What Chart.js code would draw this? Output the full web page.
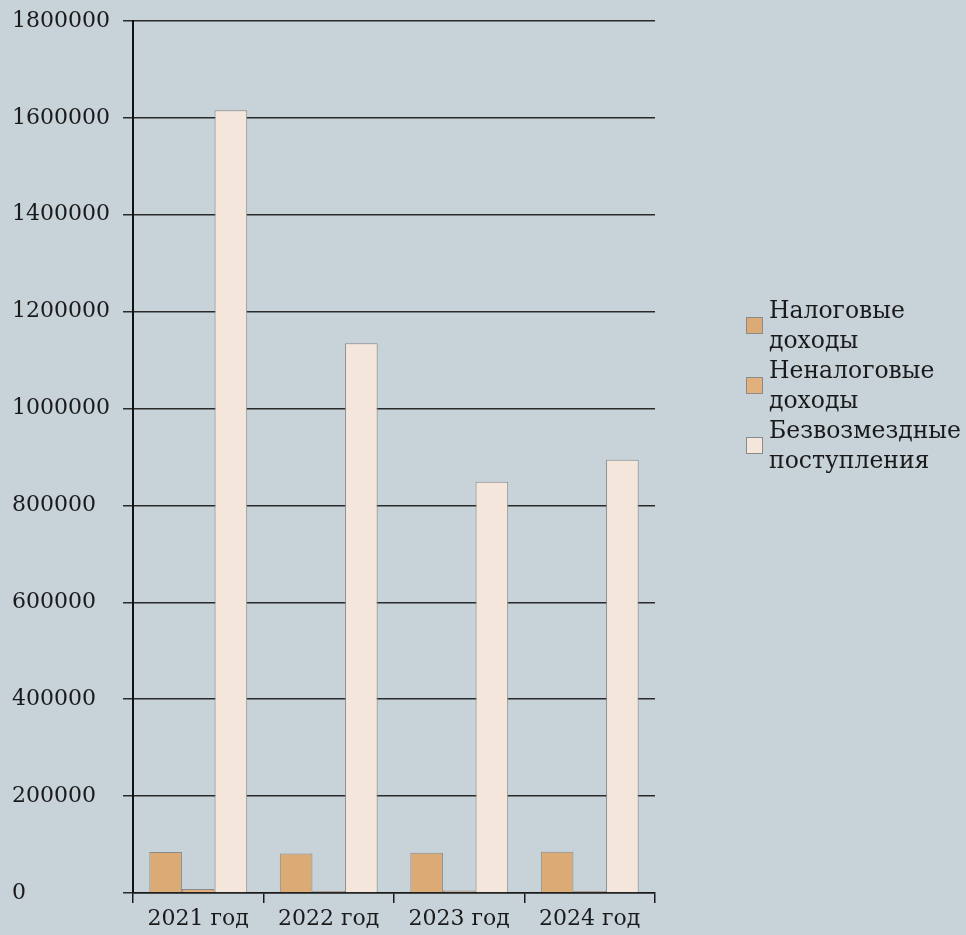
<!DOCTYPE html>
<html>
<head>
<meta charset="utf-8">
<script src="https://cdn.jsdelivr.net/npm/chart.js@4.4.1/dist/chart.umd.min.js"></script>
<style>
  html, body { margin: 0; padding: 0; background: #c7d2d9; }
  #wrap { position: relative; width: 966px; height: 935px; }
  #legend { position: absolute; left: 746px; top: 295px; font-family: "DejaVu Serif", serif; font-size: 23.5px; line-height: 30px; color: #1a1a1a; }
  .item { display: flex; align-items: center; }
  .box { width: 15px; height: 15px; border: 1px solid #8a8a8a; margin-right: 6px; flex: none; }
</style>
</head>
<body>
<div id="wrap">
  <canvas id="chart" width="966" height="935"></canvas>
  <div id="legend"></div>
</div>
<script>
const years = ['2021 год', '2022 год', '2023 год', '2024 год'];
const taxIncome = [84600, 81700, 83000, 85000];
const nonTaxIncome = [8000, 4000, 5000, 4000];
const grants = [1616000, 1134700, 849000, 894400];
const seriesNames = [['Налоговые', 'доходы'], ['Неналоговые', 'доходы'], ['Безвозмездные', 'поступления']];
const colors = ['#dcaa74', '#e2b07c', '#f4e6da'];

const font = { family: '"DejaVu Serif", serif', size: 22 };

const ctx = document.getElementById('chart').getContext('2d');
const chart = new Chart(ctx, {
  type: 'bar',
  data: {
    labels: years,
    datasets: [taxIncome, nonTaxIncome, grants].map((d, i) => ({
      label: seriesNames[i].join(' '),
      data: d,
      backgroundColor: colors[i],
      borderColor: '#8a8a8a',
      borderWidth: 1,
      categoryPercentage: 0.75,
      barPercentage: 1
    }))
  },
  options: {
    responsive: false,
    animation: false,
    layout: { padding: { top: 21, right: 311, left: 12, bottom: 3 } },
    plugins: { legend: { display: false }, tooltip: { enabled: false } },
    scales: {
      x: {
        grid: { offset: true, drawOnChartArea: false, color: '#1a1a1a', lineWidth: 1.5, tickLength: 10 },
        border: { color: '#1a1a1a', width: 1.5 },
        ticks: { color: '#1a1a1a', font: font, padding: 3 },
        afterFit: s => { s.height = 39; }
      },
      y: {
        min: 0,
        max: 1800000,
        ticks: { stepSize: 200000, color: '#1a1a1a', font: font, padding: 5, crossAlign: 'far', callback: v => String(v) },
        grid: { color: '#2a2a2a', lineWidth: 1.5, tickLength: 10 },
        border: { color: '#111', width: 2 },
        afterFit: s => { s.width = 121; }
      }
    }
  }
});

// legend as real text, two lines per item
const legend = document.getElementById('legend');
seriesNames.forEach((name, i) => {
  const item = document.createElement('div');
  item.className = 'item';
  item.innerHTML = '<div class="box" style="background:' + colors[i] + '"></div><div>' + name.join('<br>') + '</div>';
  legend.appendChild(item);
});
</script>
</body>
</html>
